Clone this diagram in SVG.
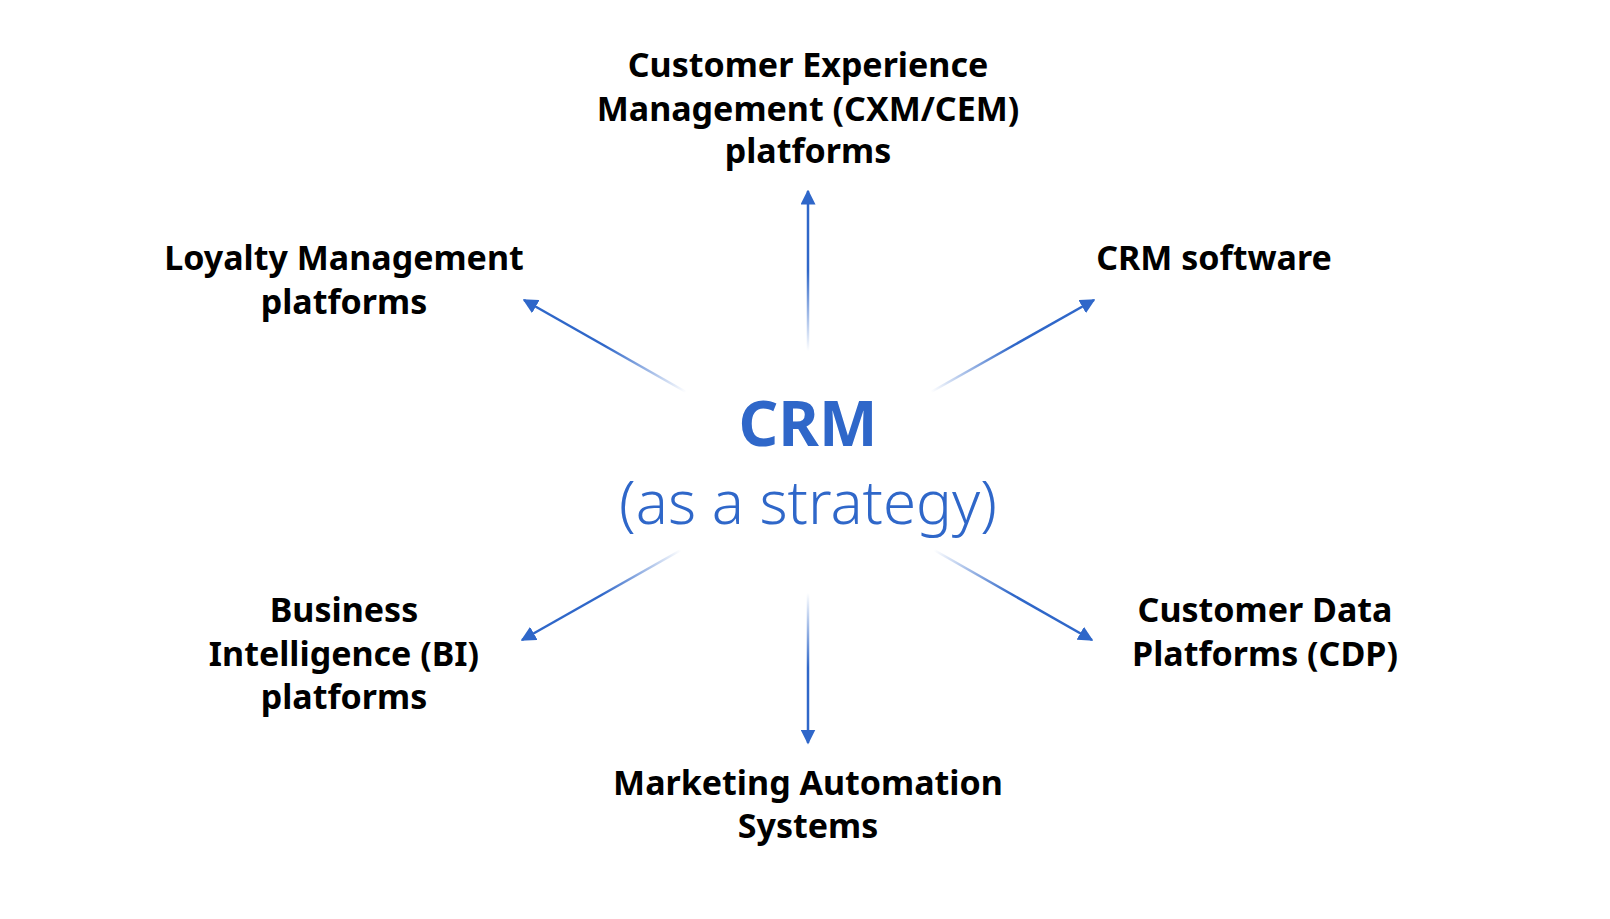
<svg xmlns="http://www.w3.org/2000/svg" width="1610" height="919" viewBox="0 0 1610 919">
<style>
.t{font-family:"Noto Sans","DejaVu Sans",sans-serif;font-weight:700;font-size:34px;fill:#000;text-anchor:middle}
.c{font-family:"Noto Sans","DejaVu Sans",sans-serif;fill:#2f67c9;text-anchor:middle}
</style>
<defs>
<marker id="ah" viewBox="0 0 10 10" refX="9" refY="5" markerWidth="6" markerHeight="6" orient="auto" markerUnits="strokeWidth"><path d="M0,0 L10,5 L0,10 z" fill="#2f67c9"/></marker>
<linearGradient id="gu" gradientUnits="userSpaceOnUse" x1="808" y1="351" x2="808" y2="191"><stop offset="0" stop-color="#2f67c9" stop-opacity="0"/><stop offset="0.5" stop-color="#2f67c9"/></linearGradient>
<linearGradient id="gd" gradientUnits="userSpaceOnUse" x1="808" y1="593" x2="808" y2="743"><stop offset="0" stop-color="#2f67c9" stop-opacity="0"/><stop offset="0.5" stop-color="#2f67c9"/></linearGradient>
<linearGradient id="g1" gradientUnits="userSpaceOnUse" x1="686" y1="392" x2="524" y2="300"><stop offset="0" stop-color="#2f67c9" stop-opacity="0"/><stop offset="0.5" stop-color="#2f67c9"/></linearGradient>
<linearGradient id="g2" gradientUnits="userSpaceOnUse" x1="931" y1="392" x2="1094" y2="300"><stop offset="0" stop-color="#2f67c9" stop-opacity="0"/><stop offset="0.5" stop-color="#2f67c9"/></linearGradient>
<linearGradient id="g3" gradientUnits="userSpaceOnUse" x1="681" y1="550" x2="522" y2="640"><stop offset="0" stop-color="#2f67c9" stop-opacity="0"/><stop offset="0.5" stop-color="#2f67c9"/></linearGradient>
<linearGradient id="g4" gradientUnits="userSpaceOnUse" x1="934" y1="550" x2="1092" y2="640"><stop offset="0" stop-color="#2f67c9" stop-opacity="0"/><stop offset="0.5" stop-color="#2f67c9"/></linearGradient>
</defs>
<rect width="1610" height="919" fill="#fff"/>
<g id="connectors" stroke-width="2.5" fill="none" marker-end="url(#ah)">
<line x1="808" y1="351" x2="808" y2="191" stroke="url(#gu)"/>
<line x1="808" y1="593" x2="808" y2="743" stroke="url(#gd)"/>
<line x1="686" y1="392" x2="524" y2="300" stroke="url(#g1)"/>
<line x1="931" y1="392" x2="1094" y2="300" stroke="url(#g2)"/>
<line x1="681" y1="550" x2="522" y2="640" stroke="url(#g3)"/>
<line x1="934" y1="550" x2="1092" y2="640" stroke="url(#g4)"/>
</g>
<g id="center"><text class="c" x="808" y="446" font-size="62" font-weight="700">CRM</text><text class="c" x="808" y="524" font-size="60" font-weight="300">(as a strategy)</text></g>
<g id="cxm"><text class="t" x="808" y="77">Customer Experience</text><text class="t" x="808" y="121">Management (CXM/CEM)</text><text class="t" x="808" y="163">platforms</text></g>
<g id="loyalty"><text class="t" x="344" y="270">Loyalty Management</text><text class="t" x="344" y="314">platforms</text></g>
<g id="crmsw"><text class="t" x="1214" y="270">CRM software</text></g>
<g id="bi"><text class="t" x="344" y="622">Business</text><text class="t" x="344" y="666">Intelligence (BI)</text><text class="t" x="344" y="709">platforms</text></g>
<g id="cdp"><text class="t" x="1265" y="622">Customer Data</text><text class="t" x="1265" y="666">Platforms (CDP)</text></g>
<g id="mas"><text class="t" x="808" y="795">Marketing Automation</text><text class="t" x="808" y="838">Systems</text></g>
</svg>
